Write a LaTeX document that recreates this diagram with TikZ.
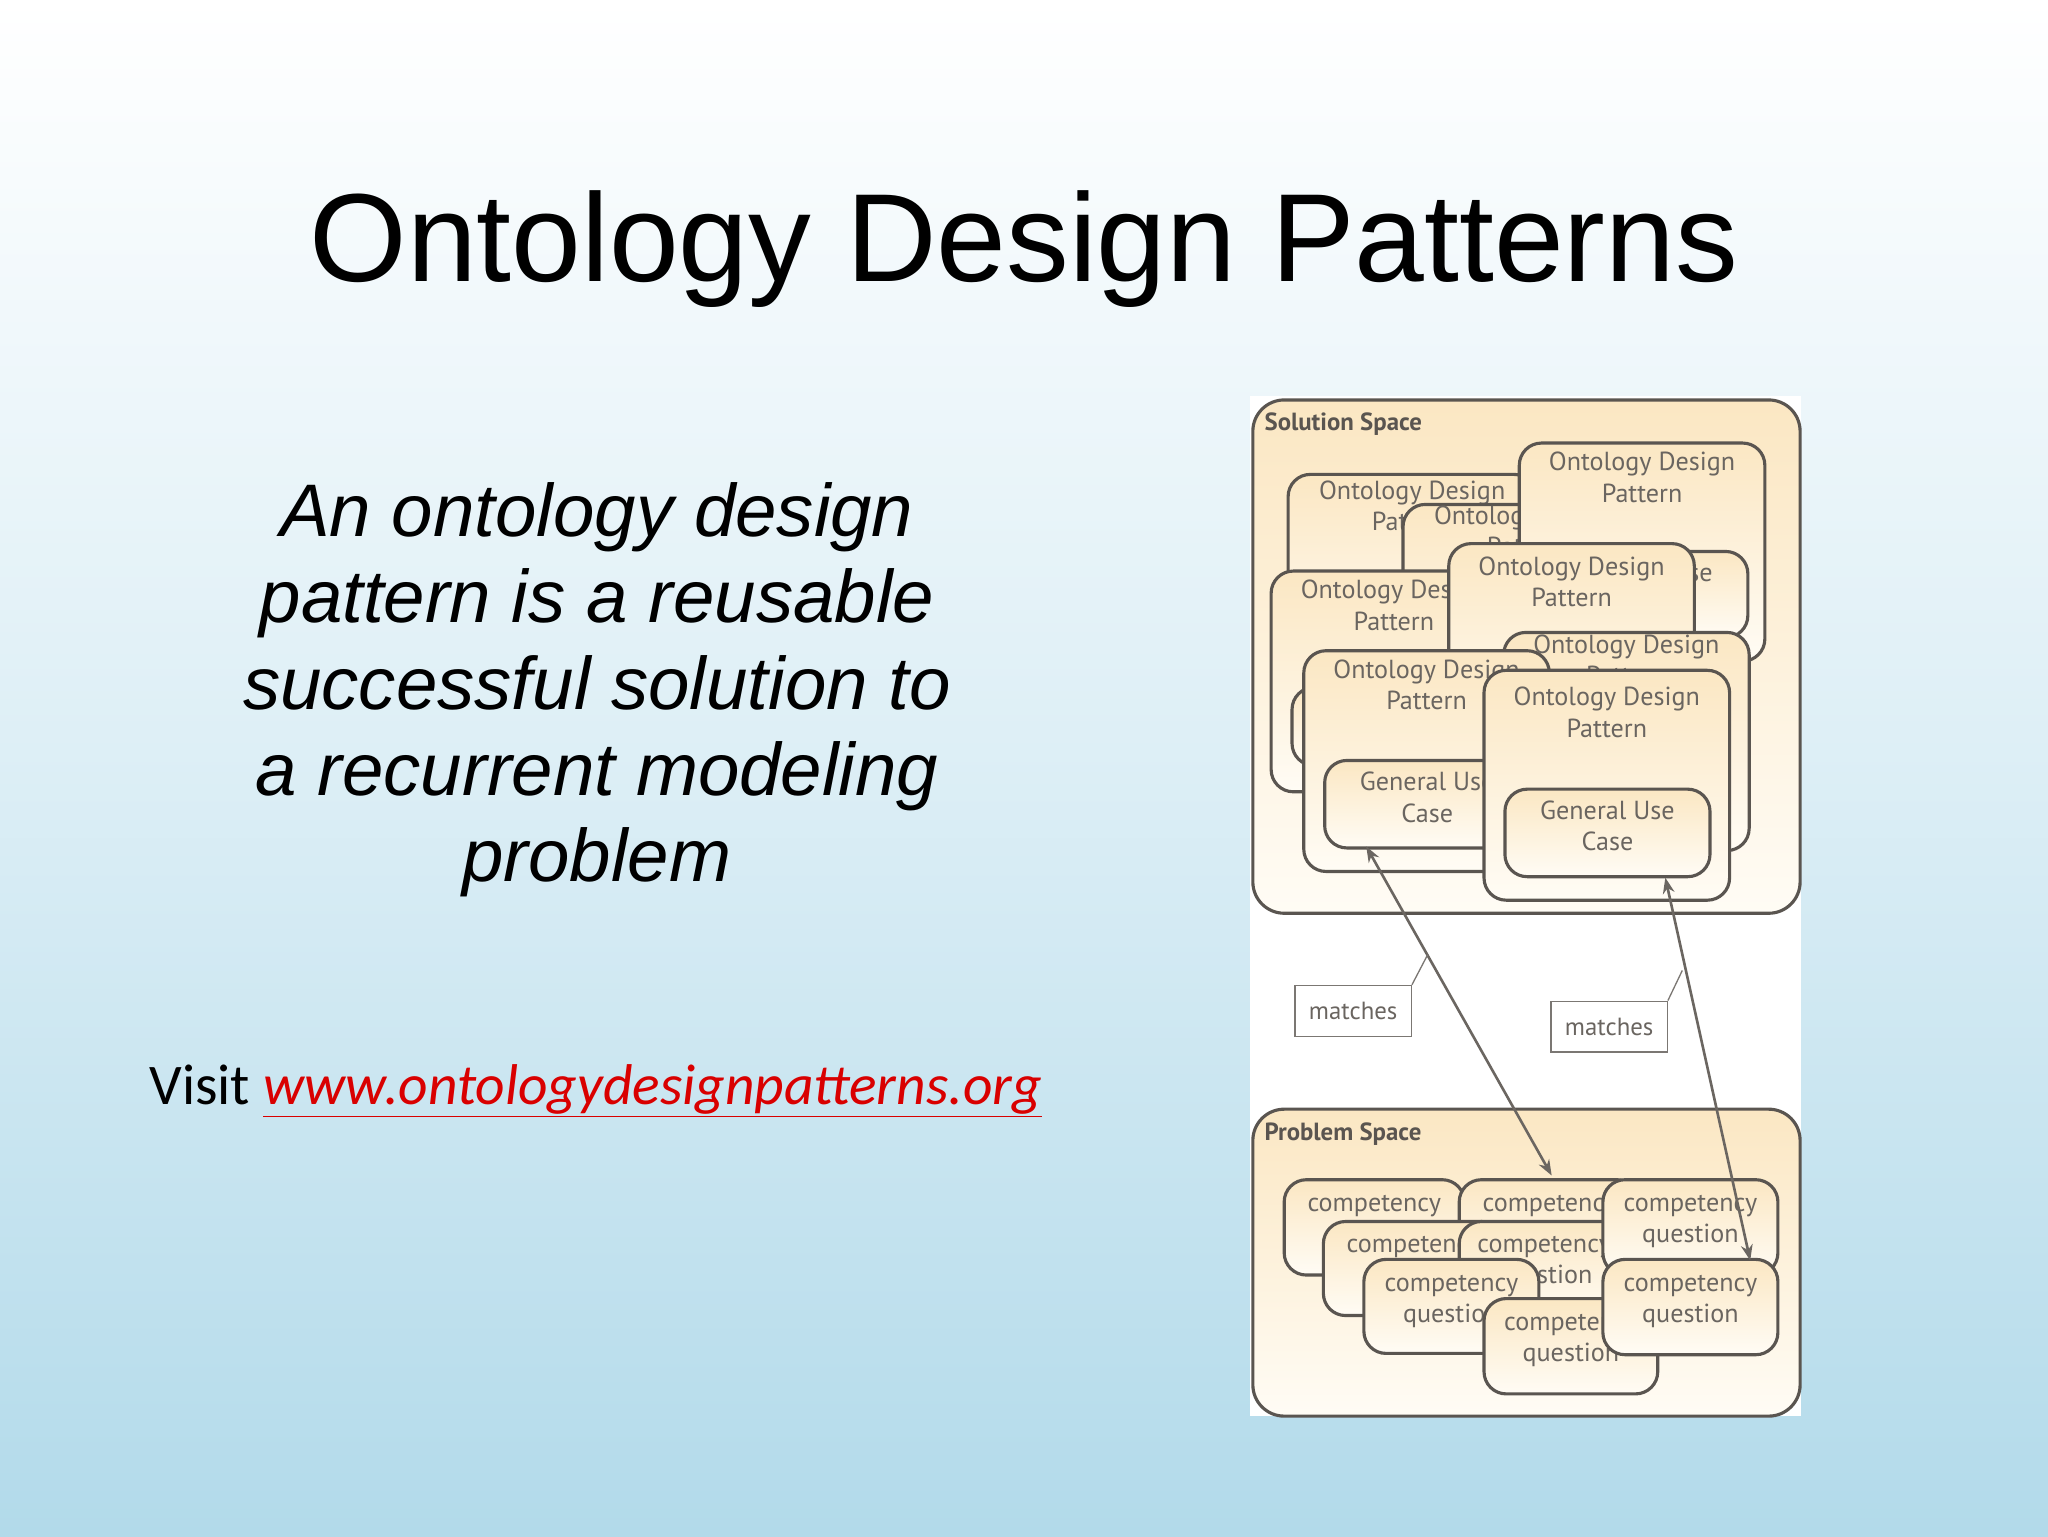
\documentclass[tikz,border=0pt]{standalone}
\usepackage{fontspec}
\setmainfont{Liberation Sans}
\newfontfamily\carl{Carlito}
\newfontfamily\gill{PT Sans}
\usetikzlibrary{arrows.meta}
\definecolor{ln}{HTML}{5A5550}
\definecolor{tx}{HTML}{6A6560}
\definecolor{cr}{HTML}{FBE7C3}
\definecolor{cw}{HTML}{FFFCF5}
\definecolor{bgb}{HTML}{B2DAEA}
\tikzset{
 box/.style={draw=ln,line width=2.4pt,rounded corners=17pt,top color=cr,bottom color=cw,inner sep=0pt},
 lab/.style={font=\gill\fontsize{20}{24}\selectfont,text=tx,align=center,inner sep=0pt},
 spacelab/.style={font=\gill\bfseries\fontsize{19}{22}\selectfont,text=ln,anchor=west,inner sep=0pt},
 mbox/.style={draw=ln!80,line width=1pt,fill=white,font=\gill\fontsize{19}{22}\selectfont,text=tx,inner sep=0pt},
 arr/.style={draw=ln!90,line width=2pt,{Stealth[length=12pt,width=9pt]}-{Stealth[length=12pt,width=9pt]}},
 thin/.style={draw=ln!80,line width=1pt}
}
\newcommand\obox[7]{%
 \node[box,minimum width=#4pt,minimum height=#5pt,anchor=north west] (#1) at (#2,#3) {};
 \node[lab,anchor=north] (#1t) at ([yshift=-#7pt]#1.north) {#6};}
\begin{document}
\begin{tikzpicture}[x=1pt,y=-1pt]
\shade[top color=white,bottom color=bgb,middle color=bgb!45] (0,0) rectangle (1568,1176);
\useasboundingbox (0,0) rectangle (1568,1176);
\node[font=\fontsize{96}{110}\selectfont] (title) at (784,191) {Ontology Design Patterns};
\node[font=\itshape\fontsize{57}{66}\selectfont,align=center,anchor=north] (def) at (457,366)
 {An ontology design\\pattern is a reusable\\successful solution to\\a recurrent modeling\\problem};
\node[font=\carl\fontsize{44}{50}\selectfont,anchor=west] (visit) at (111,835)
 {Visit \textcolor{red!85!black}{\itshape\underline{www.ontologydesignpatterns.org}}};
% diagram
\fill[white] (957,303) rectangle (1379,1084);
\node[box,minimum width=419pt,minimum height=393pt,anchor=north west,rounded corners=24pt] (sol) at (958,305) {};
\node[spacelab] (solt) at (968,325) {Solution Space};
\node[box,minimum width=419pt,minimum height=235pt,anchor=north west,rounded corners=24pt] (prob) at (958,848) {};
\node[spacelab] (probt) at (968,868) {Problem Space};
% solution boxes
\obox{A}{985}{362}{190}{150}{Ontology Design\\Pattern}{6}
\obox{B}{1073}{385}{190}{150}{Ontology Design\\Pattern}{2}
\obox{C}{1162}{338}{188}{167}{Ontology Design\\Pattern}{8}
\obox{Cg}{1180}{421}{157}{66}{General Use\\Case}{10}
\obox{D}{972}{436}{188}{169}{Ontology Design\\Pattern}{8}
\obox{Dg}{988}{525}{157}{60}{General Use\\Case}{10}
\obox{E}{1108}{415}{188}{153}{Ontology Design\\Pattern}{11}
\obox{F}{1150}{483}{188}{167}{Ontology Design\\Pattern}{3}
\obox{G}{997}{497}{188}{169}{Ontology Design\\Pattern}{8}
\obox{Gg}{1013}{581}{157}{67}{General Use\\Case}{10}
\obox{H}{1135}{512}{188}{176}{Ontology Design\\Pattern}{14}
\obox{Hg}{1151}{603}{157}{67}{General Use\\Case}{10}
% problem boxes
\obox{p1}{982}{902}{138}{73}{competency\\question}{13}
\obox{p2}{1116}{902}{138}{73}{competency\\question}{13}
\obox{p3}{1012}{934}{138}{72}{competency\\question}{12}
\obox{p4}{1116}{934}{130}{73}{competency\\question}{12}
\obox{p5}{1043}{963}{134}{72}{competency\\question}{13}
\obox{p6}{1135}{993}{133}{73}{competency\\question}{13}
\obox{p7}{1226}{902}{134}{73}{competency\\question}{13}
\obox{p8}{1226}{963}{134}{73}{competency\\question}{13}
% arrows
\coordinate (a1s) at (1046,648);
\coordinate (a1e) at (1188,900);
\coordinate (a2s) at (1275,672);
\coordinate (a2e) at (1340,965);
\draw[arr] (a1s) -- (a1e);
\draw[arr] (a2s) -- (a2e);
\node[mbox,minimum width=89pt,minimum height=39pt,anchor=north west] (m1) at (991,754) {matches};
\node[mbox,minimum width=89pt,minimum height=39pt,anchor=north west] (m2) at (1187,766) {matches};
\coordinate (c1) at (1093,731);
\coordinate (c2) at (1288,743);
\draw[thin] (m1.north east) -- (c1);
\draw[thin] (m2.north east) -- (c2);
\end{tikzpicture}
\end{document}
